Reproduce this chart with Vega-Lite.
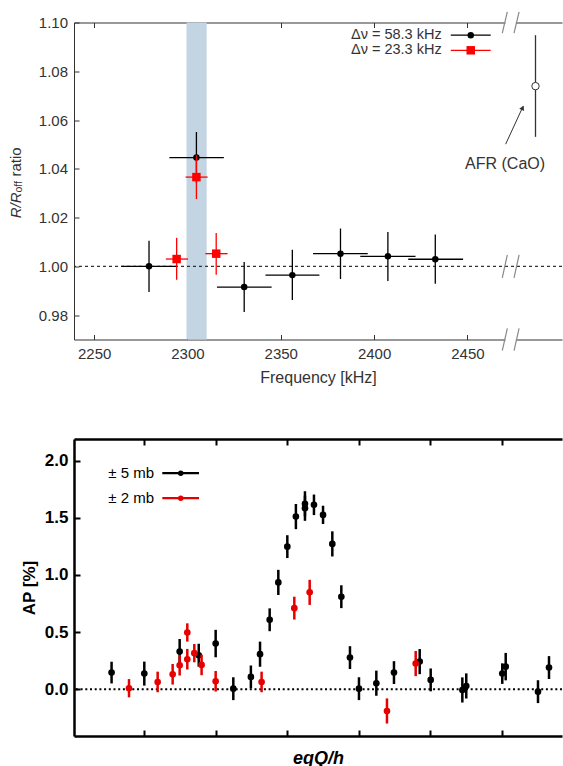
{
 "$schema": "https://vega.github.io/schema/vega-lite/v6.json",
 "background": "white",
 "padding": {"left": 8, "top": 10.5, "right": 0, "bottom": 0},
 "spacing": 52.5,
 "config": {"view": {"stroke": null}, "font": "Liberation Sans"},
 "datasets": {
  "freq": [
   {"series":"58.3","f":2279.4,"flo":2264.6,"fhi":2294.2,"r":1.0,"lo":0.9895,"hi":1.0105},
   {"series":"58.3","f":2304.8,"flo":2290.3,"fhi":2319.5,"r":1.0446,"lo":1.0342,"hi":1.0551},
   {"series":"58.3","f":2330.4,"flo":2315.8,"fhi":2345.1,"r":0.9915,"lo":0.9813,"hi":1.0018},
   {"series":"58.3","f":2356.2,"flo":2341.8,"fhi":2370.7,"r":0.9964,"lo":0.9862,"hi":1.0068},
   {"series":"58.3","f":2382.0,"flo":2367.3,"fhi":2396.6,"r":1.0052,"lo":0.9948,"hi":1.0155},
   {"series":"58.3","f":2407.4,"flo":2392.6,"fhi":2422.2,"r":1.0041,"lo":0.9940,"hi":1.0141},
   {"series":"58.3","f":2432.8,"flo":2418.3,"fhi":2447.7,"r":1.0029,"lo":0.9929,"hi":1.0131},
   {"series":"23.3","f":2294.2,"flo":2288.4,"fhi":2300.3,"r":1.0030,"lo":0.9945,"hi":1.0117},
   {"series":"23.3","f":2304.8,"flo":2299.0,"fhi":2310.8,"r":1.0366,"lo":1.0276,"hi":1.0456},
   {"series":"23.3","f":2315.4,"flo":2309.6,"fhi":2321.5,"r":1.0052,"lo":0.9966,"hi":1.0137}
  ],
  "afr": [{"f":2486.5,"r":1.0739,"lo":1.0531,"hi":1.0948}],
  "breaks": [
   {"x0":2468.7,"x1":2471.4,"y0":1.0956,"y1":1.1044},
   {"x0":2475.0,"x1":2477.7,"y0":1.0956,"y1":1.1044},
   {"x0":2468.7,"x1":2471.4,"y0":0.9953,"y1":1.0047},
   {"x0":2475.0,"x1":2477.7,"y0":0.9953,"y1":1.0047},
   {"x0":2468.7,"x1":2471.4,"y0":0.9654,"y1":0.9746},
   {"x0":2475.0,"x1":2477.7,"y0":0.9654,"y1":0.9746}
  ],
  "gaps": [{"b0":1.0985,"b1":1.1015},{"b0":0.9685,"b1":0.9715}],
  "ap": [
   {"series":"5 mb","v":0.54,"ap":0.146,"lo":0.051,"hi":0.241},
   {"series":"5 mb","v":0.998,"ap":0.137,"lo":0.032,"hi":0.242},
   {"series":"5 mb","v":1.493,"ap":0.33,"lo":0.22,"hi":0.44},
   {"series":"5 mb","v":1.76,"ap":0.298,"lo":0.198,"hi":0.398},
   {"series":"5 mb","v":1.997,"ap":0.40,"lo":0.28,"hi":0.52},
   {"series":"5 mb","v":2.244,"ap":0.005,"lo":-0.095,"hi":0.105},
   {"series":"5 mb","v":2.49,"ap":0.108,"lo":0.008,"hi":0.208},
   {"series":"5 mb","v":2.618,"ap":0.307,"lo":0.197,"hi":0.417},
   {"series":"5 mb","v":2.753,"ap":0.608,"lo":0.508,"hi":0.708},
   {"series":"5 mb","v":2.874,"ap":0.935,"lo":0.825,"hi":1.045},
   {"series":"5 mb","v":3.0,"ap":1.248,"lo":1.148,"hi":1.348},
   {"series":"5 mb","v":3.12,"ap":1.511,"lo":1.401,"hi":1.621},
   {"series":"5 mb","v":3.247,"ap":1.623,"lo":1.513,"hi":1.733},
   {"series":"5 mb","v":3.247,"ap":1.584,"lo":1.474,"hi":1.694},
   {"series":"5 mb","v":3.373,"ap":1.614,"lo":1.524,"hi":1.704},
   {"series":"5 mb","v":3.50,"ap":1.526,"lo":1.446,"hi":1.606},
   {"series":"5 mb","v":3.63,"ap":1.272,"lo":1.162,"hi":1.382},
   {"series":"5 mb","v":3.756,"ap":0.81,"lo":0.71,"hi":0.91},
   {"series":"5 mb","v":3.877,"ap":0.277,"lo":0.177,"hi":0.377},
   {"series":"5 mb","v":4.003,"ap":0.005,"lo":-0.095,"hi":0.105},
   {"series":"5 mb","v":4.246,"ap":0.053,"lo":-0.057,"hi":0.163},
   {"series":"5 mb","v":4.493,"ap":0.146,"lo":0.046,"hi":0.246},
   {"series":"5 mb","v":4.853,"ap":0.242,"lo":0.132,"hi":0.352},
   {"series":"5 mb","v":5.007,"ap":0.082,"lo":-0.018,"hi":0.182},
   {"series":"5 mb","v":5.45,"ap":-0.006,"lo":-0.116,"hi":0.104},
   {"series":"5 mb","v":5.505,"ap":0.029,"lo":-0.081,"hi":0.139},
   {"series":"5 mb","v":6.009,"ap":0.137,"lo":0.047,"hi":0.227},
   {"series":"5 mb","v":6.057,"ap":0.198,"lo":0.078,"hi":0.318},
   {"series":"5 mb","v":6.509,"ap":-0.021,"lo":-0.121,"hi":0.079},
   {"series":"5 mb","v":6.663,"ap":0.19,"lo":0.09,"hi":0.29},
   {"series":"2 mb","v":0.784,"ap":0.009,"lo":-0.071,"hi":0.089},
   {"series":"2 mb","v":1.185,"ap":0.064,"lo":-0.026,"hi":0.154},
   {"series":"2 mb","v":1.395,"ap":0.131,"lo":0.041,"hi":0.221},
   {"series":"2 mb","v":1.493,"ap":0.21,"lo":0.12,"hi":0.30},
   {"series":"2 mb","v":1.6,"ap":0.497,"lo":0.417,"hi":0.577},
   {"series":"2 mb","v":1.6,"ap":0.263,"lo":0.173,"hi":0.353},
   {"series":"2 mb","v":1.698,"ap":0.316,"lo":0.236,"hi":0.396},
   {"series":"2 mb","v":1.80,"ap":0.213,"lo":0.123,"hi":0.303},
   {"series":"2 mb","v":1.997,"ap":0.07,"lo":-0.02,"hi":0.16},
   {"series":"2 mb","v":2.64,"ap":0.064,"lo":-0.026,"hi":0.154},
   {"series":"2 mb","v":3.098,"ap":0.71,"lo":0.61,"hi":0.81},
   {"series":"2 mb","v":3.313,"ap":0.848,"lo":0.738,"hi":0.958},
   {"series":"2 mb","v":4.395,"ap":-0.19,"lo":-0.30,"hi":-0.08},
   {"series":"2 mb","v":4.797,"ap":0.225,"lo":0.115,"hi":0.335}
  ]
 },
 "vconcat": [
  {
   "width": 488,
   "height": 317,
   "resolve": {"axis": {"x": "independent", "y": "independent"}},
   "layer": [
    {
     "data": {"values": [{"lo": 2299.5, "hi": 2310.3}]},
     "mark": {"type": "rect", "color": "#c3d4e3"},
     "encoding": {
      "x": {"field": "lo", "type": "quantitative", "scale": {"domain": [2239.2, 2500.7], "nice": false, "zero": false},
       "axis": {"orient": "bottom", "values": [2250, 2300, 2350, 2400, 2450], "format": "d", "title": "Frequency [kHz]", "grid": false,
        "domainColor": "#333", "domainWidth": 1, "tickColor": "#333", "tickWidth": 1, "tickSize": -5,
        "labelColor": "#333", "labelFontSize": 15, "labelFont": "Liberation Sans", "labelPadding": 12, "labelFlush": false,
        "titleFont": "Liberation Sans", "titleFontSize": 16, "titleFontWeight": "normal", "titleColor": "#333", "titlePadding": 8}},
      "x2": {"field": "hi"}
     }
    },
    {
     "data": {"values": [{}]},
     "mark": {"type": "rule", "color": "#333", "strokeDash": [3, 3], "strokeWidth": 1.2},
     "encoding": {
      "y": {"datum": 1, "type": "quantitative", "scale": {"domain": [0.97, 1.10], "nice": false, "zero": false}, "axis": null}
     }
    },
    {
     "data": {"name": "freq"},
     "transform": [{"filter": "datum.series == '58.3'"}],
     "mark": {"type": "rule", "color": "#000", "strokeWidth": 1.3},
     "encoding": {
      "x": {"field": "flo", "type": "quantitative", "scale": {"domain": [2239.2, 2500.7], "nice": false, "zero": false},
       "axis": {"orient": "top", "values": [2250, 2300, 2350, 2400, 2450], "labels": false, "title": null, "grid": false,
        "domainColor": "#333", "domainWidth": 1, "tickColor": "#333", "tickWidth": 1, "tickSize": -5}},
      "x2": {"field": "fhi"},
      "y": {"field": "r", "type": "quantitative", "scale": {"domain": [0.97, 1.10], "nice": false, "zero": false}, "axis": null}
     }
    },
    {
     "data": {"name": "freq"},
     "transform": [{"filter": "datum.series == '58.3'"}],
     "mark": {"type": "rule", "color": "#000", "strokeWidth": 1.3},
     "encoding": {
      "x": {"field": "f", "type": "quantitative", "scale": {"domain": [2239.2, 2500.7], "nice": false, "zero": false}, "axis": null},
      "y": {"field": "lo", "type": "quantitative", "scale": {"domain": [0.97, 1.10], "nice": false, "zero": false},
       "axis": {"orient": "left", "values": [0.98, 1.0, 1.02, 1.04, 1.06, 1.08, 1.1], "format": ".2f", "title": null, "grid": false,
        "domainColor": "#333", "domainWidth": 1, "tickColor": "#333", "tickWidth": 1, "tickSize": -5,
        "labelColor": "#333", "labelFontSize": 15, "labelFont": "Liberation Sans", "labelPadding": 11.5}},
      "y2": {"field": "hi"}
     }
    },
    {
     "data": {"name": "freq"},
     "transform": [{"filter": "datum.series == '58.3'"}],
     "mark": {"type": "point", "shape": "circle", "filled": true, "size": 42, "color": "#000", "opacity": 1},
     "encoding": {
      "x": {"field": "f", "type": "quantitative", "scale": {"domain": [2239.2, 2500.7], "nice": false, "zero": false}, "axis": null},
      "y": {"field": "r", "type": "quantitative", "scale": {"domain": [0.97, 1.10], "nice": false, "zero": false}, "axis": null}
     }
    },
    {
     "data": {"name": "freq"},
     "transform": [{"filter": "datum.series == '23.3'"}],
     "mark": {"type": "rule", "color": "#ff0000", "strokeWidth": 1.3},
     "encoding": {
      "x": {"field": "flo", "type": "quantitative", "scale": {"domain": [2239.2, 2500.7], "nice": false, "zero": false}, "axis": null},
      "x2": {"field": "fhi"},
      "y": {"field": "r", "type": "quantitative", "scale": {"domain": [0.97, 1.10], "nice": false, "zero": false}, "axis": null}
     }
    },
    {
     "data": {"name": "freq"},
     "transform": [{"filter": "datum.series == '23.3'"}],
     "mark": {"type": "rule", "color": "#ff0000", "strokeWidth": 1.3},
     "encoding": {
      "x": {"field": "f", "type": "quantitative", "scale": {"domain": [2239.2, 2500.7], "nice": false, "zero": false}, "axis": null},
      "y": {"field": "lo", "type": "quantitative", "scale": {"domain": [0.97, 1.10], "nice": false, "zero": false}, "axis": null},
      "y2": {"field": "hi"}
     }
    },
    {
     "data": {"name": "freq"},
     "transform": [{"filter": "datum.series == '23.3'"}],
     "mark": {"type": "square", "size": 72, "color": "#ff0000", "opacity": 1},
     "encoding": {
      "x": {"field": "f", "type": "quantitative", "scale": {"domain": [2239.2, 2500.7], "nice": false, "zero": false}, "axis": null},
      "y": {"field": "r", "type": "quantitative", "scale": {"domain": [0.97, 1.10], "nice": false, "zero": false}, "axis": null}
     }
    },
    {
     "data": {"name": "afr"},
     "mark": {"type": "rule", "color": "#333", "strokeWidth": 1.3},
     "encoding": {
      "x": {"field": "f", "type": "quantitative", "scale": {"domain": [2239.2, 2500.7], "nice": false, "zero": false}, "axis": null},
      "y": {"field": "lo", "type": "quantitative", "scale": {"domain": [0.97, 1.10], "nice": false, "zero": false}, "axis": null},
      "y2": {"field": "hi"}
     }
    },
    {
     "data": {"name": "afr"},
     "mark": {"type": "point", "shape": "circle", "size": 55, "stroke": "#333", "strokeWidth": 1, "fill": "white", "filled": true, "opacity": 1},
     "encoding": {
      "x": {"field": "f", "type": "quantitative", "scale": {"domain": [2239.2, 2500.7], "nice": false, "zero": false}, "axis": null},
      "y": {"field": "r", "type": "quantitative", "scale": {"domain": [0.97, 1.10], "nice": false, "zero": false}, "axis": null}
     }
    },
    {
     "data": {"values": [{}]},
     "mark": {"type": "rule", "color": "#333", "strokeWidth": 1},
     "encoding": {
      "x": {"datum": 2470.5, "type": "quantitative", "scale": {"domain": [2239.2, 2500.7], "nice": false, "zero": false}, "axis": null},
      "x2": {"datum": 2479.9},
      "y": {"datum": 1.0501, "type": "quantitative", "scale": {"domain": [0.97, 1.10], "nice": false, "zero": false}, "axis": null},
      "y2": {"datum": 1.0657}
     }
    },
    {
     "data": {"values": [{}]},
     "mark": {"type": "point", "shape": "triangle-up", "angle": 24.6, "size": 28, "filled": true, "color": "#333", "opacity": 1},
     "encoding": {
      "x": {"datum": 2479.6, "type": "quantitative", "scale": {"domain": [2239.2, 2500.7], "nice": false, "zero": false}, "axis": null},
      "y": {"datum": 1.0650, "type": "quantitative", "scale": {"domain": [0.97, 1.10], "nice": false, "zero": false}, "axis": null}
     }
    },
    {
     "data": {"values": [{}]},
     "mark": {"type": "text", "text": "AFR (CaO)", "fontSize": 16, "color": "#333", "align": "center", "baseline": "middle"},
     "encoding": {
      "x": {"datum": 2470.2, "type": "quantitative", "scale": {"domain": [2239.2, 2500.7], "nice": false, "zero": false}, "axis": null},
      "y": {"datum": 1.0421, "type": "quantitative", "scale": {"domain": [0.97, 1.10], "nice": false, "zero": false}, "axis": null}
     }
    },
    {
     "data": {"values": [{}]},
     "mark": {"type": "rule", "color": "#000", "strokeWidth": 1.3},
     "encoding": {
      "x": {"datum": 2441.1, "type": "quantitative", "scale": {"domain": [2239.2, 2500.7], "nice": false, "zero": false}, "axis": null},
      "x2": {"datum": 2462.5},
      "y": {"datum": 1.0948, "type": "quantitative", "scale": {"domain": [0.97, 1.10], "nice": false, "zero": false}, "axis": null}
     }
    },
    {
     "data": {"values": [{}]},
     "mark": {"type": "point", "shape": "circle", "filled": true, "size": 42, "color": "#000", "opacity": 1},
     "encoding": {
      "x": {"datum": 2451.8, "type": "quantitative", "scale": {"domain": [2239.2, 2500.7], "nice": false, "zero": false}, "axis": null},
      "y": {"datum": 1.0948, "type": "quantitative", "scale": {"domain": [0.97, 1.10], "nice": false, "zero": false}, "axis": null}
     }
    },
    {
     "data": {"values": [{}]},
     "mark": {"type": "text", "text": "Δν = 58.3 kHz", "fontSize": 14.5, "color": "#333", "align": "right", "baseline": "middle"},
     "encoding": {
      "x": {"datum": 2436.2, "type": "quantitative", "scale": {"domain": [2239.2, 2500.7], "nice": false, "zero": false}, "axis": null},
      "y": {"datum": 1.0948, "type": "quantitative", "scale": {"domain": [0.97, 1.10], "nice": false, "zero": false}, "axis": null}
     }
    },
    {
     "data": {"values": [{}]},
     "mark": {"type": "rule", "color": "#ff0000", "strokeWidth": 1.3},
     "encoding": {
      "x": {"datum": 2441.1, "type": "quantitative", "scale": {"domain": [2239.2, 2500.7], "nice": false, "zero": false}, "axis": null},
      "x2": {"datum": 2462.5},
      "y": {"datum": 1.0886, "type": "quantitative", "scale": {"domain": [0.97, 1.10], "nice": false, "zero": false}, "axis": null}
     }
    },
    {
     "data": {"values": [{}]},
     "mark": {"type": "square", "size": 72, "color": "#ff0000", "opacity": 1},
     "encoding": {
      "x": {"datum": 2451.8, "type": "quantitative", "scale": {"domain": [2239.2, 2500.7], "nice": false, "zero": false}, "axis": null},
      "y": {"datum": 1.0886, "type": "quantitative", "scale": {"domain": [0.97, 1.10], "nice": false, "zero": false}, "axis": null}
     }
    },
    {
     "data": {"values": [{}]},
     "mark": {"type": "text", "text": "Δν = 23.3 kHz", "fontSize": 14.5, "color": "#333", "align": "right", "baseline": "middle"},
     "encoding": {
      "x": {"datum": 2436.2, "type": "quantitative", "scale": {"domain": [2239.2, 2500.7], "nice": false, "zero": false}, "axis": null},
      "y": {"datum": 1.0886, "type": "quantitative", "scale": {"domain": [0.97, 1.10], "nice": false, "zero": false}, "axis": null}
     }
    },
    {
     "data": {"name": "gaps"},
     "mark": {"type": "rect", "color": "white"},
     "encoding": {
      "x": {"datum": 2470.4, "type": "quantitative", "scale": {"domain": [2239.2, 2500.7], "nice": false, "zero": false}, "axis": null},
      "x2": {"datum": 2476.0},
      "y": {"field": "b0", "type": "quantitative", "scale": {"domain": [0.97, 1.10], "nice": false, "zero": false}, "axis": null},
      "y2": {"field": "b1"}
     }
    },
    {
     "data": {"name": "breaks"},
     "mark": {"type": "rule", "color": "#888", "strokeWidth": 1.2},
     "encoding": {
      "x": {"field": "x0", "type": "quantitative", "scale": {"domain": [2239.2, 2500.7], "nice": false, "zero": false}, "axis": null},
      "x2": {"field": "x1"},
      "y": {"field": "y0", "type": "quantitative", "scale": {"domain": [0.97, 1.10], "nice": false, "zero": false}, "axis": null},
      "y2": {"field": "y1"}
     }
    },
    {
     "data": {"values": [{}]},
     "mark": {"type": "text", "text": "R/R", "fontSize": 15, "fontStyle": "italic", "color": "#333", "align": "left", "baseline": "middle", "angle": 270},
     "encoding": {
      "x": {"datum": 2208.1, "type": "quantitative", "scale": {"domain": [2239.2, 2500.7], "nice": false, "zero": false}, "axis": null},
      "y": {"datum": 1.0197, "type": "quantitative", "scale": {"domain": [0.97, 1.10], "nice": false, "zero": false}, "axis": null}
     }
    },
    {
     "data": {"values": [{}]},
     "mark": {"type": "text", "text": "off", "fontSize": 10.5, "color": "#333", "align": "left", "baseline": "middle", "angle": 270, "dx": 25.8, "dy": 3},
     "encoding": {
      "x": {"datum": 2208.1, "type": "quantitative", "scale": {"domain": [2239.2, 2500.7], "nice": false, "zero": false}, "axis": null},
      "y": {"datum": 1.0197, "type": "quantitative", "scale": {"domain": [0.97, 1.10], "nice": false, "zero": false}, "axis": null}
     }
    },
    {
     "data": {"values": [{}]},
     "mark": {"type": "text", "text": "ratio", "fontSize": 15, "color": "#333", "align": "left", "baseline": "middle", "angle": 270, "dx": 41.7},
     "encoding": {
      "x": {"datum": 2208.1, "type": "quantitative", "scale": {"domain": [2239.2, 2500.7], "nice": false, "zero": false}, "axis": null},
      "y": {"datum": 1.0197, "type": "quantitative", "scale": {"domain": [0.97, 1.10], "nice": false, "zero": false}, "axis": null}
     }
    }
   ]
  },
  {
   "width": 488,
   "height": 297,
   "resolve": {"axis": {"x": "independent", "y": "independent"}},
   "layer": [
    {
     "data": {"values": [{}]},
     "mark": {"type": "rule", "color": "#000", "strokeDash": [2, 2.7], "strokeWidth": 2},
     "encoding": {
      "y": {"datum": 0, "type": "quantitative", "scale": {"domain": [-0.409, 2.19], "nice": false, "zero": false}, "axis": null}
     }
    },
    {
     "data": {"name": "ap"},
     "transform": [{"filter": "datum.series == '5 mb'"}],
     "mark": {"type": "rule", "color": "#000", "strokeWidth": 2.5},
     "encoding": {
      "x": {"field": "v", "type": "quantitative", "scale": {"domain": [0.014, 6.845], "nice": false, "zero": false},
       "axis": {"orient": "bottom", "values": [1, 2, 3, 4, 5, 6], "labels": false, "title": "eqQ/h", "grid": false,
        "domainColor": "#000", "domainWidth": 2.5, "tickColor": "#000", "tickWidth": 2, "tickSize": -6,
        "titleFont": "Liberation Sans", "titleFontSize": 18, "titleFontWeight": "bold", "titleFontStyle": "italic", "titleColor": "#000", "titlePadding": 12}},
      "y": {"field": "lo", "type": "quantitative", "scale": {"domain": [-0.409, 2.19], "nice": false, "zero": false},
       "axis": {"orient": "left", "values": [0, 0.5, 1, 1.5, 2], "format": ".1f", "title": "AP [%]", "grid": false,
        "domainColor": "#000", "domainWidth": 2.5, "tickColor": "#000", "tickWidth": 2, "tickSize": -6,
        "labelColor": "#000", "labelFontSize": 17, "labelFontWeight": "bold", "labelFont": "Liberation Sans", "labelPadding": 12,
        "titleFont": "Liberation Sans", "titleFontSize": 17, "titleFontWeight": "bold", "titleColor": "#000", "titlePadding": 6}},
      "y2": {"field": "hi"}
     }
    },
    {
     "data": {"name": "ap"},
     "transform": [{"filter": "datum.series == '5 mb'"}],
     "mark": {"type": "point", "shape": "circle", "filled": true, "size": 44, "color": "#000", "opacity": 1},
     "encoding": {
      "x": {"field": "v", "type": "quantitative", "scale": {"domain": [0.014, 6.845], "nice": false, "zero": false}, "axis": null},
      "y": {"field": "ap", "type": "quantitative", "scale": {"domain": [-0.409, 2.19], "nice": false, "zero": false}, "axis": null}
     }
    },
    {
     "data": {"name": "ap"},
     "transform": [{"filter": "datum.series == '2 mb'"}],
     "mark": {"type": "rule", "color": "#e60000", "strokeWidth": 2.5},
     "encoding": {
      "x": {"field": "v", "type": "quantitative", "scale": {"domain": [0.014, 6.845], "nice": false, "zero": false},
       "axis": {"orient": "top", "values": [1, 2, 3, 4, 5, 6], "labels": false, "title": null, "grid": false,
        "domainColor": "#000", "domainWidth": 2.5, "tickColor": "#000", "tickWidth": 2, "tickSize": -6}},
      "y": {"field": "lo", "type": "quantitative", "scale": {"domain": [-0.409, 2.19], "nice": false, "zero": false}, "axis": null},
      "y2": {"field": "hi"}
     }
    },
    {
     "data": {"name": "ap"},
     "transform": [{"filter": "datum.series == '2 mb'"}],
     "mark": {"type": "point", "shape": "circle", "filled": true, "size": 44, "color": "#e60000", "opacity": 1},
     "encoding": {
      "x": {"field": "v", "type": "quantitative", "scale": {"domain": [0.014, 6.845], "nice": false, "zero": false}, "axis": null},
      "y": {"field": "ap", "type": "quantitative", "scale": {"domain": [-0.409, 2.19], "nice": false, "zero": false}, "axis": null}
     }
    },
    {
     "data": {"values": [{}]},
     "mark": {"type": "rule", "color": "#000", "strokeWidth": 2.2},
     "encoding": {
      "x": {"datum": 1.25, "type": "quantitative", "scale": {"domain": [0.014, 6.845], "nice": false, "zero": false}, "axis": null},
      "x2": {"datum": 1.764},
      "y": {"datum": 1.891, "type": "quantitative", "scale": {"domain": [-0.409, 2.19], "nice": false, "zero": false}, "axis": null}
     }
    },
    {
     "data": {"values": [{}]},
     "mark": {"type": "point", "shape": "circle", "filled": true, "size": 30, "color": "#000", "opacity": 1},
     "encoding": {
      "x": {"datum": 1.508, "type": "quantitative", "scale": {"domain": [0.014, 6.845], "nice": false, "zero": false}, "axis": null},
      "y": {"datum": 1.891, "type": "quantitative", "scale": {"domain": [-0.409, 2.19], "nice": false, "zero": false}, "axis": null}
     }
    },
    {
     "data": {"values": [{}]},
     "mark": {"type": "text", "text": "± 5 mb", "fontSize": 15, "color": "#000", "align": "right", "baseline": "middle"},
     "encoding": {
      "x": {"datum": 1.134, "type": "quantitative", "scale": {"domain": [0.014, 6.845], "nice": false, "zero": false}, "axis": null},
      "y": {"datum": 1.891, "type": "quantitative", "scale": {"domain": [-0.409, 2.19], "nice": false, "zero": false}, "axis": null}
     }
    },
    {
     "data": {"values": [{}]},
     "mark": {"type": "rule", "color": "#e60000", "strokeWidth": 2.2},
     "encoding": {
      "x": {"datum": 1.25, "type": "quantitative", "scale": {"domain": [0.014, 6.845], "nice": false, "zero": false}, "axis": null},
      "x2": {"datum": 1.764},
      "y": {"datum": 1.672, "type": "quantitative", "scale": {"domain": [-0.409, 2.19], "nice": false, "zero": false}, "axis": null}
     }
    },
    {
     "data": {"values": [{}]},
     "mark": {"type": "point", "shape": "circle", "filled": true, "size": 30, "color": "#e60000", "opacity": 1},
     "encoding": {
      "x": {"datum": 1.508, "type": "quantitative", "scale": {"domain": [0.014, 6.845], "nice": false, "zero": false}, "axis": null},
      "y": {"datum": 1.672, "type": "quantitative", "scale": {"domain": [-0.409, 2.19], "nice": false, "zero": false}, "axis": null}
     }
    },
    {
     "data": {"values": [{}]},
     "mark": {"type": "text", "text": "± 2 mb", "fontSize": 15, "color": "#000", "align": "right", "baseline": "middle"},
     "encoding": {
      "x": {"datum": 1.134, "type": "quantitative", "scale": {"domain": [0.014, 6.845], "nice": false, "zero": false}, "axis": null},
      "y": {"datum": 1.672, "type": "quantitative", "scale": {"domain": [-0.409, 2.19], "nice": false, "zero": false}, "axis": null}
     }
    }
   ]
  }
 ]
}
